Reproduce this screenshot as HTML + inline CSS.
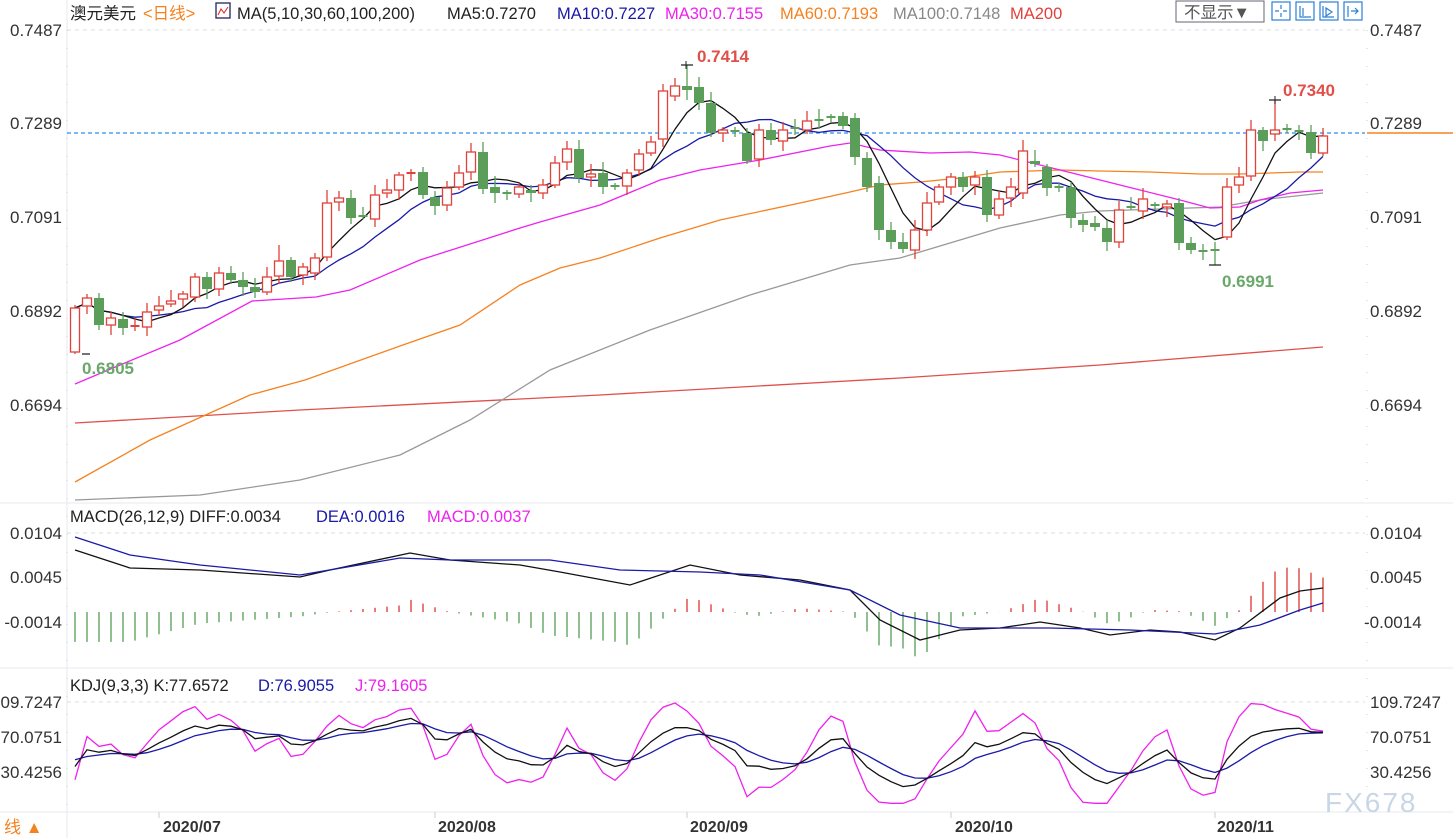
<!DOCTYPE html>
<html><head><meta charset="utf-8"><style>
html,body{margin:0;padding:0;background:#fff;}
body{width:1453px;height:838px;overflow:hidden;position:relative;font-family:"Liberation Sans","Noto Sans CJK SC",sans-serif;}
svg{position:absolute;left:0;top:0;}
</style></head><body>
<svg id="s" width="1453" height="838" xmlns="http://www.w3.org/2000/svg" font-family="Liberation Sans, Noto Sans CJK SC, sans-serif">
<g id="grid" stroke="#e4e9ef" stroke-width="1" fill="none">
<line x1="67" y1="0" x2="67" y2="838"/>
<line x1="0" y1="503" x2="1453" y2="503"/>
<line x1="0" y1="668" x2="1453" y2="668"/>
<line x1="0" y1="812" x2="1453" y2="812"/>
</g>
<g stroke="#ddd" stroke-dasharray="4,4" fill="none">
<line x1="67" y1="30" x2="1365" y2="30"/>
<line x1="67" y1="533" x2="1365" y2="533"/>
<line x1="67" y1="702" x2="1365" y2="702"/>
</g>
<line x1="1367" y1="30" x2="1367" y2="812" stroke="#ccc" stroke-dasharray="1,17"/>
<line x1="67" y1="30" x2="67" y2="812" stroke="#ccc" stroke-dasharray="1,17"/>
<g font-size="17" fill="#333" text-anchor="end">
<text x="62" y="36">0.7487</text><text x="62" y="129">0.7289</text><text x="62" y="223">0.7091</text><text x="62" y="317">0.6892</text><text x="62" y="411">0.6694</text>
<text x="62" y="539">0.0104</text><text x="62" y="583">0.0045</text><text x="62" y="628">-0.0014</text>
<text x="62" y="708">109.7247</text><text x="62" y="743">70.0751</text><text x="62" y="778">30.4256</text>
</g>
<g font-size="17" fill="#333">
<text x="1370" y="36">0.7487</text><text x="1370" y="129">0.7289</text><text x="1370" y="223">0.7091</text><text x="1370" y="317">0.6892</text><text x="1370" y="411">0.6694</text>
<text x="1370" y="539">0.0104</text><text x="1370" y="583">0.0045</text><text x="1364" y="628">-0.0014</text>
<text x="1370" y="708">109.7247</text><text x="1370" y="743">70.0751</text><text x="1370" y="778">30.4256</text>
</g>
<line x1="67" y1="133" x2="1365" y2="133" stroke="#2a8cf0" stroke-dasharray="4,3" stroke-width="1.3"/>
<line x1="1367" y1="133" x2="1453" y2="133" stroke="#f58220" stroke-width="1.5"/>
<g id="ma" fill="none" stroke-width="1.3"></g>
<g id="cdl"></g>
<g id="ind" fill="none" stroke-width="1.3"></g>
<g font-size="16.5">
<text x="70" y="19" fill="#222">澳元美元</text><text x="143" y="19" fill="#f58220">&lt;日线&gt;</text>
<rect x="216" y="3" width="14" height="15" fill="#fff" stroke="#336" stroke-width="1.4"/><polyline points="218,15 221,9 224,13 228,7" stroke="#e02020" fill="none"/>
<text x="237" y="19" fill="#222">MA(5,10,30,60,100,200)</text>
<text x="447" y="19" fill="#222">MA5:0.7270</text>
<text x="557" y="19" fill="#1a1aa8">MA10:0.7227</text>
<text x="665" y="19" fill="#ee22ee">MA30:0.7155</text>
<text x="780" y="19" fill="#f58220">MA60:0.7193</text>
<text x="893" y="19" fill="#888">MA100:0.7148</text>
<text x="1010" y="19" fill="#e0413a">MA200</text>
<text x="70" y="522" fill="#222">MACD(26,12,9) DIFF:0.0034</text>
<text x="316" y="522" fill="#1a1aa8">DEA:0.0016</text>
<text x="427" y="522" fill="#ee22ee">MACD:0.0037</text>
<text x="70" y="691" fill="#222">KDJ(9,3,3) K:77.6572</text>
<text x="258" y="691" fill="#1a1aa8">D:76.9055</text>
<text x="355" y="691" fill="#ee22ee">J:79.1605</text>
</g>
<g font-size="17" font-weight="bold">
<text x="697" y="62" fill="#e0504a">0.7414</text>
<text x="1283" y="96" fill="#e0504a">0.7340</text>
<text x="1222" y="287" fill="#6aa86a">0.6991</text>
<text x="82" y="374" fill="#6aa86a">0.6805</text>
</g>
<g font-size="16" font-weight="bold" fill="#333">
<text x="163" y="832">2020/07</text><text x="438" y="832">2020/08</text><text x="690" y="832">2020/09</text><text x="955" y="832">2020/10</text><text x="1217" y="832">2020/11</text>
</g>
<g stroke="#ccc"><line x1="159" y1="812" x2="159" y2="818"/><line x1="435" y1="812" x2="435" y2="818"/><line x1="687" y1="812" x2="687" y2="818"/><line x1="951" y1="812" x2="951" y2="818"/><line x1="1215" y1="812" x2="1215" y2="818"/></g>
<text x="4" y="833" font-size="17" fill="#f58220">线 ▲</text>
<text x="1325" y="812" font-size="28" fill="#c8d6e6" letter-spacing="2">FX678</text>
<rect x="1176" y="1" width="88" height="21" fill="#fff" stroke="#667" stroke-width="1"/>
<text x="1184" y="18" font-size="16.5" fill="#555">不显示▼</text>
<g stroke="#2a7fd4" fill="#fff" stroke-width="1.2">
<rect x="1272" y="2" width="18" height="18"/><rect x="1296" y="2" width="18" height="18"/><rect x="1320" y="2" width="18" height="18"/><rect x="1344" y="2" width="18" height="18"/>
<path d="M1281 5v4M1281 13v4M1275 11h4M1283 11h4M1300 6v11h11M1303 8v8M1323 6v11h11M1326 8l6 4-6 4zM1348 6v11M1351 11h7M1355 8l3 3-3 3"/>
</g>
</svg>
<script>
var oc=[[352,308],[306,298],[298,325],[325,318],[319,328],[327,326],[327,312],[310,306],[304,301],[299,294],[297,277],[277,289],[289,273],[273,280],[280,287],[287,292],[292,277],[276,261],[260,277],[275,267],[273,258],[257,203],[202,198],[198,218],[216,216],[219,195],[193,190],[190,175],[174,173],[172,195],[197,206],[205,188],[187,173],[172,152],[152,189],[187,193],[193,193],[194,187],[190,193],[193,185],[185,163],[162,149],[149,178],[177,174],[173,187],[186,186],[186,173],[170,154],[153,142],[139,91],[96,86],[86,90],[87,103],[103,133],[133,130],[131,131],[133,161],[159,130],[130,140],[141,130],[128,128],[130,121],[120,120],[117,117],[116,126],[118,157],[158,187],[183,230],[230,242],[242,249],[250,230],[230,203],[202,187],[187,177],[177,187],[185,177],[177,215],[215,199],[198,187],[193,151],[161,164],[167,188],[187,187],[187,218],[220,225],[223,227],[228,242],[242,210],[207,207],[211,199],[205,205],[207,204],[203,243],[243,250],[251,251],[250,250],[237,187],[185,177],[176,130],[130,141],[134,130],[129,129],[131,131],[132,153],[153,136]];
var n=oc.length,X=function(i){return 75+12*i};
var H=[],L=[],C=[];
var cd='';
for(var i=0;i<n;i++){var o=oc[i][0],c=oc[i][1],t=Math.min(o,c),b=Math.max(o,c);
var r1=3+((i*37)%9),r2=3+((i*53)%8);var h=t-r1,l=b+r2;
if(i==0)l=354;if(i==51)h=65;if(i==100)h=100;if(i==95)l=265;if(i==21)h=190;if(i==17)h=245;if(i==79)h=140;if(i==96)h=178;if(i==98)h=120;
H.push(h);L.push(l);C.push(c);var x=X(i);
var up=c<o,col=up?'#e0413a':'#5a9e5a';
cd+='<line x1="'+x+'" y1="'+h+'" x2="'+x+'" y2="'+t+'" stroke="'+col+'" stroke-width="1.3"/>';
cd+='<line x1="'+x+'" y1="'+b+'" x2="'+x+'" y2="'+l+'" stroke="'+col+'" stroke-width="1.3"/>';
if(b-t<2){cd+='<line x1="'+(x-4.5)+'" y1="'+t+'" x2="'+(x+4.5)+'" y2="'+t+'" stroke="'+col+'" stroke-width="2"/>';}
else if(up)cd+='<rect x="'+(x-4.5)+'" y="'+t+'" width="9" height="'+(b-t)+'" fill="#fff" stroke="'+col+'" stroke-width="1.3"/>';
else cd+='<rect x="'+(x-5)+'" y="'+t+'" width="10" height="'+(b-t)+'" fill="'+col+'"/>';}
cd+='<path d="M82 354h8M681 65h12M1269 100h12M1209 265h12" stroke="#222" stroke-width="1.3"/><path d="M686 61v8M1275 96v8" stroke="#222"/>';
document.getElementById('cdl').innerHTML=cd;
function maPts(p){var s='';for(var i=0;i<n;i++){var k=Math.min(p,i+1),a=0;for(var j=i-k+1;j<=i;j++)a+=C[j];s+=X(i)+','+(a/k).toFixed(1)+' ';}return s;}
function pl(p,col){return '<polyline points="'+p+'" stroke="'+col+'"/>';}
var ma='';
ma+=pl('75,423 300,410 600,395 900,378 1100,365 1323,347','#e0504a');
ma+=pl('75,500 200,495 300,480 400,455 470,420 550,370 650,330 750,295 850,265 900,258 960,240 1000,228 1060,215 1100,211 1160,209 1220,207 1260,200 1323,193','#999');
ma+=pl('75,482 150,440 250,395 305,380 400,346 460,325 520,285 560,268 600,258 660,238 720,220 800,203 850,192 880,185 920,182 960,178 1000,172 1060,170 1100,171 1150,172 1200,174 1240,174 1300,172 1323,172','#f58220');
ma+=pl('75,384 120,365 180,340 252,301 316,297 350,290 420,260 520,228 540,222 600,205 660,180 700,170 760,160 830,146 850,143 880,150 930,153 970,152 1000,155 1060,170 1100,180 1140,190 1180,200 1210,208 1240,207 1260,200 1290,193 1323,190','#ee22ee');
ma+=pl(maPts(10),'#1a1aa8');
ma+=pl(maPts(5),'#111');
document.getElementById('ma').innerHTML=ma;
function interp(pts,x){for(var i=0;i<pts.length-1;i++){if(x>=pts[i][0]&&x<=pts[i+1][0]){var f=(x-pts[i][0])/(pts[i+1][0]-pts[i][0]);return pts[i][1]+f*(pts[i+1][1]-pts[i][1]);}}return pts[pts.length-1][1];}
var dea=[[75,537],[130,555],[200,565],[300,575],[400,558],[450,560],[550,560],[620,570],[700,572],[760,575],[850,590],[900,615],[960,628],[1050,628],[1130,630],[1215,634],[1260,625],[1300,610],[1323,603]];
var dif=[[75,550],[130,568],[200,570],[300,577],[330,570],[410,553],[450,560],[520,565],[560,572],[630,585],[690,565],[740,575],[800,580],[850,590],[880,620],[920,640],[960,630],[1000,628],[1040,622],[1080,628],[1110,635],[1150,630],[1180,632],[1215,640],[1240,628],[1280,598],[1300,591],[1323,588]];
var ind='',z=612;
for(var i=0;i<n;i++){var x=X(i),d=(interp(dea,x)-interp(dif,x))*2.3;var y2=z-d;
ind+='<line x1="'+x+'" y1="'+z+'" x2="'+x+'" y2="'+y2.toFixed(1)+'" stroke="'+(d>0?'#e0504a':'#6aaa6a')+'" stroke-width="1.5"/>';}
function ptsStr(a){return a.map(function(p){return p[0]+','+p[1]}).join(' ');}
ind+=pl(ptsStr(dif),'#111')+pl(ptsStr(dea),'#1a1aa8');
var K=45,D=48,ks='',ds='',js='';
function ky(v){return (702+(109.7247-v)*35/39.65).toFixed(1);}
for(var i=0;i<n;i++){var hh=1e9,ll=-1e9;for(var j=Math.max(0,i-8);j<=i;j++){hh=Math.min(hh,H[j]);ll=Math.max(ll,L[j]);}
var rsv=ll==hh?50:(ll-C[i])/(ll-hh)*100;if(i==0)rsv=20;K=(2*K+rsv)/3;D=(2*D+K)/3;var J=3*K-2*D;J=Math.max(-5,Math.min(115,J));
var x=X(i);ks+=x+','+ky(K)+' ';ds+=x+','+ky(D)+' ';js+=x+','+ky(J)+' ';}
ind+=pl(js,'#ee22ee')+pl(ds,'#1a1aa8')+pl(ks,'#111');
document.getElementById('ind').innerHTML=ind;
</script>
</body></html>
